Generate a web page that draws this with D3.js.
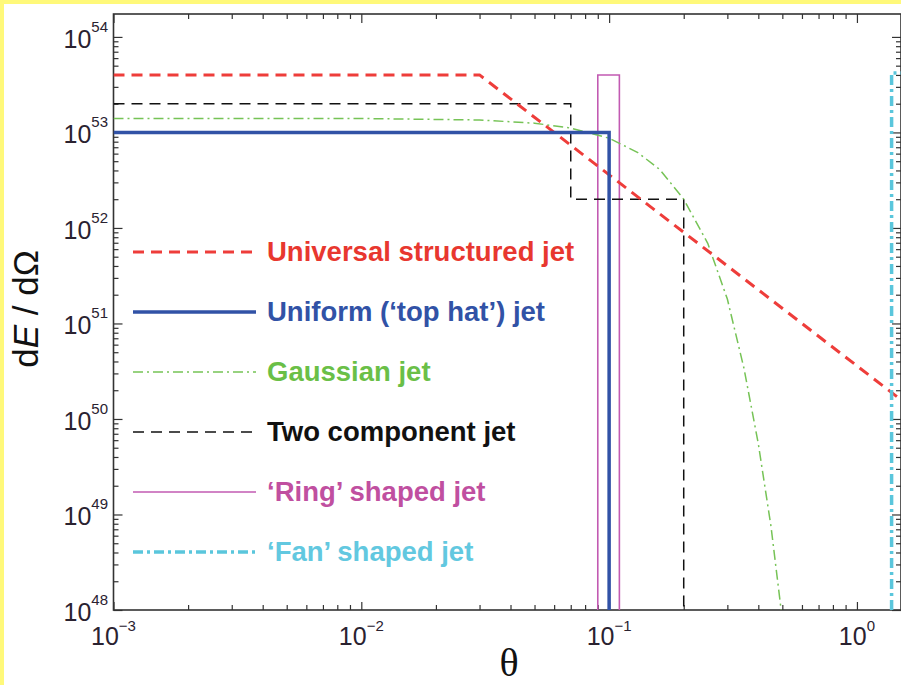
<!DOCTYPE html>
<html>
<head>
<meta charset="utf-8">
<script src="https://cdn.jsdelivr.net/npm/d3@7"></script>
<style>
  body { margin: 0; background: #fff; }
  svg { display: block; }
</style>
</head>
<body>
<svg id="chart" width="901" height="685"></svg>
<script>
// jet energy profiles
var universalTheta = [1e-3, 0.03, 1.5];
var universalE     = [4e53, 4e53, 1.6e50];

var uniformTheta = [1e-3, 0.1, 0.1];
var uniformE     = [1e53, 1e53, 1e48];

var gaussianTheta = [1e-3, 0.01, 0.03, 0.05, 0.07, 0.1, 0.13, 0.16, 0.2, 0.25, 0.3, 0.35, 0.4, 0.45, 0.5];
var gaussianE     = [1.4e53, 1.4e53, 1.35e53, 1.25e53, 1.11e53, 8.7e52, 6.2e52, 4.1e52, 2.0e52, 6.9e51, 1.8e51, 3.4e50, 5.5e49, 7.5e48, 7.9e47];

var twoCompTheta = [1e-3, 0.07, 0.07, 0.2, 0.2];
var twoCompE     = [2e53, 2e53, 2e52, 2e52, 1e48];

var ringTheta = [0.09, 0.09, 0.11, 0.11];
var ringE     = [1e48, 4e53, 4e53, 1e48];

var fanTheta = [1.38, 1.38, 2.0];
var fanE     = [1e48, 4.2e53, 4.2e53];

var legendLabels = ["Universal structured jet", "Uniform (\u2018top hat\u2019) jet", "Gaussian jet",
                    "Two component jet", "\u2018Ring\u2019 shaped jet", "\u2018Fan\u2019 shaped jet"];

var xMajor = [1e-3, 1e-2, 1e-1, 1];
var xMajorExp = ["\u22123", "\u22122", "\u22121", "0"];
var yMajor = [1e48, 1e49, 1e50, 1e51, 1e52, 1e53, 1e54];
var yMajorExp = ["48", "49", "50", "51", "52", "53", "54"];

var svg = d3.select("#chart");

// plot box (note: "top" is taken by window, so use box*)
var boxLeft = 113.5, boxRight = 901, boxTop = 14, boxBottom = 610;
var yMax = Math.pow(10, 54.24);

var x = d3.scaleLog().domain([1e-3, 1.506]).range([boxLeft, boxRight]);
var y = d3.scaleLog().domain([1e48, yMax]).range([boxBottom, boxTop]);

// yellow frame bits
svg.append("rect").attr("x", 0).attr("y", 0).attr("width", 901).attr("height", 4).attr("fill", "#fff97a");
svg.append("rect").attr("x", 0).attr("y", 0).attr("width", 4).attr("height", 685).attr("fill", "#fff97a");

svg.append("clipPath").attr("id", "clip")
    .append("rect").attr("x", boxLeft).attr("y", boxTop)
    .attr("width", boxRight - boxLeft).attr("height", boxBottom - boxTop);

// minor + major tick values
function logTicks(lo, hi) {
    var out = [];
    for (var e = lo; e <= hi; e++) {
        for (var m = 1; m < 10; m++) out.push(m * Math.pow(10, e));
    }
    return out;
}
var xTickVals = logTicks(-3, 0).filter(function (v) { return v >= 1e-3 && v <= 1.506; });
var yTickVals = logTicks(48, 54).filter(function (v) { return v >= 1e48 && v <= yMax; });

function isMajor(v) {
    var l = Math.log10(v);
    return Math.abs(l - Math.round(l)) < 1e-9;
}

var axisColor = "#333";

// ticks point inward; majors longer than minors
function styleAxis(g, major, minor) {
    g.select(".domain").remove();
    g.selectAll(".tick text").remove();
    g.selectAll(".tick line")
        .attr("stroke", axisColor)
        .attr("stroke-width", 1.2)
        .each(function (d) {
            var len = isMajor(d) ? major : minor;
            var el = d3.select(this);
            if (el.attr("x2") != null) el.attr("x2", len);
            if (el.attr("y2") != null) el.attr("y2", len);
        });
}

svg.append("g").attr("transform", "translate(0," + boxBottom + ")")
    .call(d3.axisBottom(x).tickValues(xTickVals))
    .call(styleAxis, -8, -5);
svg.append("g").attr("transform", "translate(0," + boxTop + ")")
    .call(d3.axisTop(x).tickValues(xTickVals))
    .call(styleAxis, 9, 5);
svg.append("g").attr("transform", "translate(" + boxLeft + ",0)")
    .call(d3.axisLeft(y).tickValues(yTickVals))
    .call(styleAxis, 9, 5);
svg.append("g").attr("transform", "translate(" + boxRight + ",0)")
    .call(d3.axisRight(y).tickValues(yTickVals))
    .call(styleAxis, -9, -5);

// box
svg.append("rect")
    .attr("x", boxLeft).attr("y", boxTop)
    .attr("width", boxRight - boxLeft).attr("height", boxBottom - boxTop)
    .attr("fill", "none").attr("stroke", axisColor).attr("stroke-width", 1.6);

// tick labels with superscripts
var labelFont = "'Liberation Sans', Arial, Helvetica, sans-serif";
var lblColor = "#2a2230";

xMajor.forEach(function (v, i) {
    var t = svg.append("text")
        .attr("x", x(v)).attr("y", 645)
        .attr("text-anchor", "middle")
        .attr("font-family", labelFont).attr("fill", lblColor);
    t.append("tspan").attr("font-size", 25).text("10");
    t.append("tspan").attr("font-size", 15).attr("dy", -14).text(xMajorExp[i]);
});

yMajor.forEach(function (v, i) {
    var t = svg.append("text")
        .attr("x", 108).attr("y", y(v) + 11)
        .attr("text-anchor", "end")
        .attr("font-family", labelFont).attr("fill", lblColor);
    t.append("tspan").attr("font-size", 25).text("10");
    t.append("tspan").attr("font-size", 15).attr("dy", -16).text(yMajorExp[i]);
});

// axis titles
var yTitle = svg.append("text")
    .attr("transform", "translate(38,309) rotate(-90)")
    .attr("text-anchor", "middle")
    .attr("font-family", labelFont).attr("font-size", 35).attr("fill", "#111");
yTitle.append("tspan").text("d");
yTitle.append("tspan").attr("font-style", "italic").text("E");
yTitle.append("tspan").text(" / d\u03a9");

svg.append("text")
    .attr("x", 509).attr("y", 676)
    .attr("text-anchor", "middle")
    .attr("font-family", "'Liberation Serif', 'Times New Roman', serif")
    .attr("font-size", 40).attr("fill", "#111")
    .text("\u03b8");

// series styles
var series = [
    { th: universalTheta, e: universalE, color: "#ee3d3a", width: 3,   dash: "11,7",     text: "#e8372f" },
    { th: uniformTheta,   e: uniformE,   color: "#3152a6", width: 3.5, dash: null,       text: "#3152a6" },
    { th: gaussianTheta,  e: gaussianE,  color: "#76c356", width: 1.5, dash: "10,4,2,4", text: "#6abf47" },
    { th: twoCompTheta,   e: twoCompE,   color: "#111111", width: 1.5, dash: "11,7",     text: "#111111" },
    { th: ringTheta,      e: ringE,      color: "#c25ab2", width: 1.6, dash: null,       text: "#c04fa0" },
    { th: fanTheta,       e: fanE,       color: "#5ac6dc", width: 3.5, dash: "10,4,3,4", text: "#62c8e0" }
];

var line = d3.line()
    .x(function (d) { return x(d[0]); })
    .y(function (d) { return y(d[1]); });

var plot = svg.append("g").attr("clip-path", "url(#clip)");

// draw order: ring under the rest, blue on top
var order = [4, 2, 3, 0, 5, 1];
order.forEach(function (i) {
    var s = series[i];
    var pts = s.th.map(function (t, k) { return [t, s.e[k]]; });
    plot.append("path")
        .datum(pts)
        .attr("d", line)
        .attr("fill", "none")
        .attr("stroke", s.color)
        .attr("stroke-width", s.width)
        .attr("stroke-dasharray", s.dash);
});

// legend
var legend = svg.append("g");
series.forEach(function (s, i) {
    var ly = 252 + i * 60;
    legend.append("line")
        .attr("x1", 133).attr("x2", 256)
        .attr("y1", ly).attr("y2", ly)
        .attr("stroke", s.color)
        .attr("stroke-width", s.width)
        .attr("stroke-dasharray", s.dash);
    legend.append("text")
        .attr("x", 267).attr("y", ly + 9)
        .attr("font-family", labelFont)
        .attr("font-weight", "bold")
        .attr("font-size", 27.5)
        .attr("fill", s.text)
        .text(legendLabels[i]);
});
</script>
</body>
</html>
